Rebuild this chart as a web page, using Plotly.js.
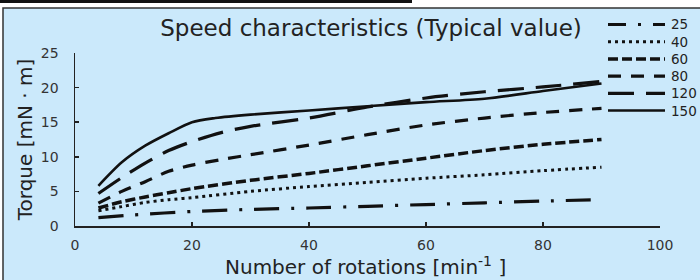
<!DOCTYPE html>
<html>
<head>
<meta charset="utf-8">
<script src="https://cdn.plot.ly/plotly-3.0.1.min.js"></script>
<style>html,body{margin:0;padding:0;background:#fff}#chart{width:700px;height:280px}</style>
</head>
<body>
<div id="chart"></div>
<script>
// Series names (rotation labels in legend)
var seriesNames = ["25", "40", "60", "80", "120", "150"];

// Speed [min^-1] and torque [mN·m] per series
var x25  = [4, 10, 20, 30, 40, 50, 60, 70, 80, 89];
var y25  = [1.2, 1.6, 2.1, 2.4, 2.6, 2.85, 3.1, 3.35, 3.6, 3.8];

var x40  = [4, 8, 12, 16, 20, 30, 40, 50, 60, 70, 80, 90];
var y40  = [2.2, 2.8, 3.4, 3.8, 4.1, 5.0, 5.7, 6.3, 6.9, 7.4, 8.0, 8.5];

var x60  = [4, 8, 12, 16, 20, 30, 40, 50, 60, 70, 80, 90];
var y60  = [2.6, 3.5, 4.2, 4.8, 5.4, 6.6, 7.6, 8.7, 9.8, 10.9, 11.8, 12.5];

var x80  = [4, 8, 12, 16, 20, 25, 30, 40, 50, 60, 70, 80, 90];
var y80  = [3.3, 5.0, 6.4, 7.9, 8.8, 9.6, 10.3, 11.7, 13.2, 14.6, 15.6, 16.4, 17.0];

var x120 = [4, 8, 12, 16, 20, 25, 30, 40, 50, 60, 70, 80, 90];
var y120 = [4.7, 7.0, 9.1, 10.9, 12.2, 13.5, 14.4, 15.6, 17.2, 18.5, 19.4, 20.1, 20.9];

var x150 = [4, 8, 12, 16, 20, 24, 30, 40, 50, 60, 70, 80, 90];
var y150 = [5.8, 9.2, 11.6, 13.4, 15.0, 15.6, 16.1, 16.7, 17.3, 17.9, 18.4, 19.5, 20.6];

var xTickVals = [0, 20, 40, 60, 80, 100];
var yTickVals = [0, 5, 10, 15, 20, 25];

var FONT = "DejaVu Sans";
var INK = "#111";
var styles = [
  {dash: "25px,12px,3px,12px", width: 3.2, legDash: "18px,12px,3px,12px"},
  {dash: "3px,4px", width: 3, legDash: "3px,4px"},
  {dash: "10px,4px", width: 3.5, legDash: "10px,4px"},
  {dash: "13px,10px", width: 3.2, legDash: "13px,10px"},
  {dash: "26px,12px", width: 3.2, legDash: "26px,12px"},
  {dash: "solid", width: 2.6, legDash: "solid"}
];
var xs = [x25, x40, x60, x80, x120, x150];
var ys = [y25, y40, y60, y80, y120, y150];

var traces = seriesNames.map(function (n, i) {
  return {
    type: "scatter", mode: "lines", name: n, showlegend: false,
    x: xs[i], y: ys[i],
    line: {color: INK, width: styles[i].width, dash: styles[i].dash, shape: "spline", smoothing: 0.8}
  };
});

var L = 75, R = 40, T = 53, B = 54, W = 700, H = 280;
var pw = W - L - R, ph = H - T - B;
function px(v) { return (v - L) / pw; }
function py(v) { return (H - B - v) / ph; }

var shapes = [
  {type: "rect", xref: "paper", yref: "paper", layer: "below",
   x0: px(3), x1: px(702), y0: py(282), y1: py(8),
   fillcolor: "#cbe9fb", line: {color: "#333", width: 1.5}},
  {type: "line", xref: "paper", yref: "paper", layer: "above",
   x0: px(0), x1: px(412), y0: py(1.5), y1: py(1.5),
   line: {color: "#111", width: 3}}
];
var annotations = [
  {xref: "paper", yref: "paper", x: px(365), y: py(265.5), xanchor: "center", yanchor: "middle",
   showarrow: false, text: "Number of rotations [min<sup>-1</sup> ]",
   font: {family: FONT, size: 20, color: "#222"}}
];
// Hand-drawn legend (long line samples like the reference)
seriesNames.forEach(function (n, i) {
  var yy = 24.5 + 17.2 * i;
  shapes.push({type: "line", xref: "paper", yref: "paper", layer: "above",
    x0: px(608), x1: px(665), y0: py(yy), y1: py(yy),
    line: {color: INK, width: styles[i].width, dash: styles[i].legDash}});
  annotations.push({xref: "paper", yref: "paper", x: px(669), y: py(yy),
    xanchor: "left", yanchor: "middle", showarrow: false, text: n,
    font: {family: FONT, size: 13.5, color: "#222"}});
});

var layout = {
  width: W, height: H,
  margin: {l: L, r: R, t: T, b: B, pad: 0},
  paper_bgcolor: "#ffffff",
  plot_bgcolor: "rgba(0,0,0,0)",
  font: {family: FONT, color: "#222", size: 14},
  showlegend: false,
  title: {
    text: "Speed characteristics (Typical value)",
    font: {family: FONT, size: 23, color: "#222"},
    x: 371 / W, xanchor: "center", xref: "container",
    y: 1 - 28 / H, yanchor: "middle", yref: "container"
  },
  xaxis: {
    range: [0, 100], tickvals: xTickVals, ticks: "inside", ticklen: 4, tickwidth: 1.5, tickcolor: "#222",
    showline: true, linecolor: "#222", linewidth: 1.5, showgrid: false, zeroline: false,
    ticklabelstandoff: 6,
    tickfont: {family: FONT, size: 14, color: "#333"}
  },
  yaxis: {
    range: [0, 25], tickvals: yTickVals, ticks: "inside", ticklen: 4, tickwidth: 1.5, tickcolor: "#222",
    showline: true, linecolor: "#222", linewidth: 1.5, showgrid: false, zeroline: false,
    ticklabelstandoff: 12,
    tickfont: {family: FONT, size: 14, color: "#333"},
    title: {text: "Torque [mN · m]", font: {family: FONT, size: 20, color: "#222"}, standoff: 3}
  },
  shapes: shapes,
  annotations: annotations
};

Plotly.newPlot("chart", traces, layout, {displayModeBar: false, staticPlot: true});
</script>
</body>
</html>
